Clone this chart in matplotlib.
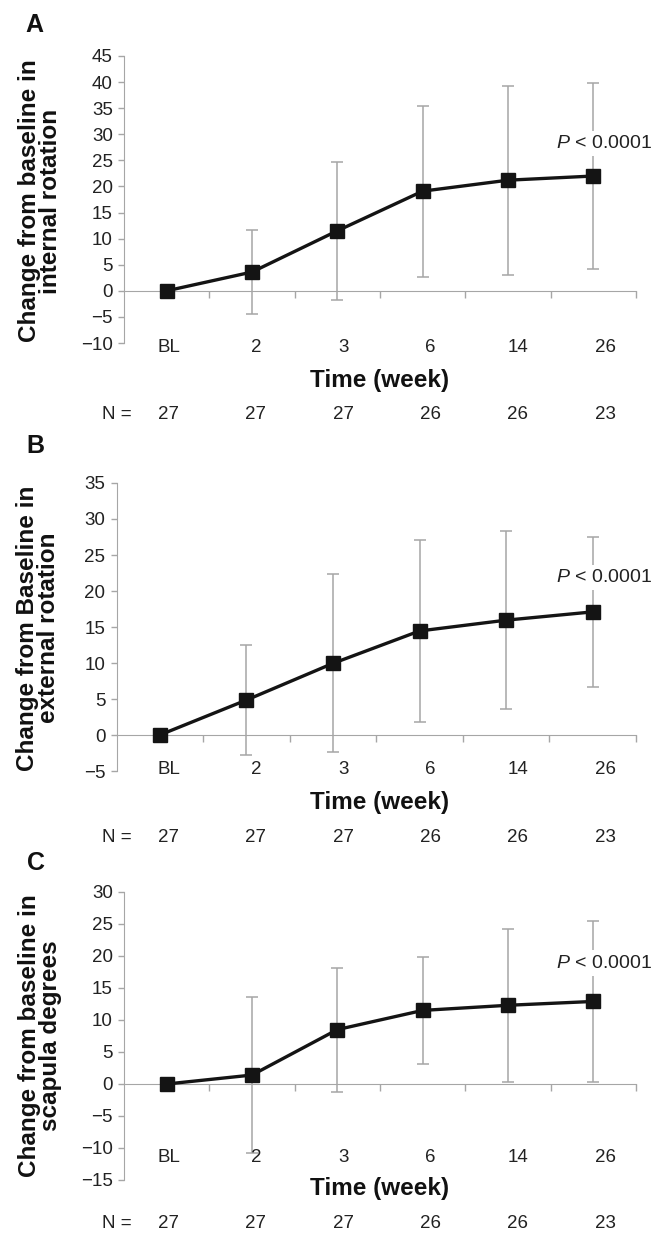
import matplotlib
matplotlib.use('Agg')
import matplotlib.pyplot as plt
import numpy as np

plt.rcParams['font.family'] = ['Liberation Sans', 'DejaVu Sans']
plt.rcParams['mathtext.fontset'] = 'custom'
plt.rcParams['mathtext.it'] = 'Liberation Sans:italic'
plt.rcParams['mathtext.rm'] = 'Liberation Sans'

# ---------------- data ----------------
categories = ['BL', '2', '3', '6', '14', '26']
n_counts = ['27', '27', '27', '26', '26', '23']
panel_letters = ['A', 'B', 'C']
ylabels = ['Change from baseline in\ninternal rotation',
           'Change from Baseline in\nexternal rotation',
           'Change from baseline in\nscapula degrees']

mean_A = [0, 3.6, 11.5, 19.1, 21.2, 22.0]
sd_A = [0, 8.0, 13.2, 16.4, 18.1, 17.8]
mean_B = [0, 4.85, 9.95, 14.45, 15.95, 17.1]
sd_B = [0, 7.65, 12.35, 12.65, 12.4, 10.45]
mean_C = [0, 1.4, 8.5, 11.5, 12.3, 12.9]
sd_C = [0, 12.15, 9.7, 8.3, 11.95, 12.55]

ylims = [(-10, 45), (-5, 35), (-15, 30)]
p_text = r'$\mathit{P}$ < 0.0001'
p_label_y = [28.3, 21.9, 18.9]
xlabel = 'Time (week)'

means = [mean_A, mean_B, mean_C]
sds = [sd_A, sd_B, sd_C]

# ---------------- layout (pixels) ----------------
W, H = 660, 1242
def fx(x):
    return x / W
def fy(y):
    return 1 - y / H

right = 636
layout = [
    dict(left=124, top=56, bottom=343, tick_row=348, time_row=381, n_row=415, letter=(34, 25), ylab=(40, 201)),
    dict(left=116.5, top=483, bottom=771, tick_row=770, time_row=803, n_row=837, letter=(35, 446), ylab=(38, 628)),
    dict(left=124, top=892, bottom=1180, tick_row=1157, time_row=1188, n_row=1223, letter=(36, 863), ylab=(40, 1036)),
]
label_x0, label_dx = 168.6, 87.3

gray = '#a6a6a6'
txt = '#222222'
fs_tick = 13.5

fig = plt.figure(figsize=(W / 100, H / 100), dpi=100)

for k in range(3):
    L = layout[k]
    ax = fig.add_axes([fx(L['left']), fy(L['bottom']), (right - L['left']) / W,
                       (L['bottom'] - L['top']) / H])
    x = np.arange(len(categories))
    lo, hi = ylims[k]
    ax.set_xlim(-0.5, len(categories) - 0.5)
    ax.set_ylim(lo, hi)
    yt = np.arange(lo, hi + 1, 5)
    ax.set_yticks(yt)
    ax.set_yticklabels([str(v).replace('-', '\u2212') for v in yt])
    ax.set_xticks(np.arange(0.5, len(categories), 1))
    ax.tick_params(axis='x', direction='out', length=5, width=1, color=gray, labelbottom=False)
    ax.tick_params(axis='y', direction='out', length=4.5, width=1, color=gray, pad=3.5,
                   labelsize=fs_tick, labelcolor=txt)
    for s in ['top', 'right']:
        ax.spines[s].set_visible(False)
    ax.spines['bottom'].set_position(('data', 0))
    ax.spines['bottom'].set_color(gray)
    ax.spines['left'].set_color(gray)
    ax.patch.set_alpha(0)

    ax.errorbar(x[1:], means[k][1:], yerr=sds[k][1:], fmt='none', ecolor=gray,
                elinewidth=1.1, capsize=4, capthick=1.1, zorder=2)
    ax.plot(x, means[k], color='#141414', lw=2.4, marker='s', ms=9.5, zorder=4,
            solid_joinstyle='miter')
    ax.text(len(categories) - 1 + 0.13, p_label_y[k], p_text, ha='center', va='center',
            fontsize=14, color=txt, zorder=3,
            bbox=dict(facecolor='white', edgecolor='none', pad=3))

    # category labels, x-label, N row
    for i, c in enumerate(categories):
        fig.text(fx(label_x0 + label_dx * i), fy(L['tick_row']), c, ha='center', va='center',
                 fontsize=fs_tick, color=txt)
        fig.text(fx(label_x0 + label_dx * i), fy(L['n_row']), n_counts[i], ha='center',
                 va='center', fontsize=fs_tick, color=txt)
    fig.text(fx(117), fy(L['n_row']), 'N =', ha='center', va='center', fontsize=fs_tick, color=txt)
    fig.text(fx(380), fy(L['time_row']), xlabel, ha='center', va='center', fontsize=17.5,
             fontweight='bold', color='#111111')
    fig.text(fx(L['letter'][0]), fy(L['letter'][1]), panel_letters[k], ha='center', va='center',
             fontsize=18, fontweight='bold', color='#111111')
    fig.text(fx(L['ylab'][0]), fy(L['ylab'][1]), ylabels[k], ha='center', va='center',
             rotation=90, fontsize=17.5, fontweight='bold', color='#111111',
             linespacing=0.9, multialignment='center')

fig.savefig('out.png', dpi=100, facecolor='white')
